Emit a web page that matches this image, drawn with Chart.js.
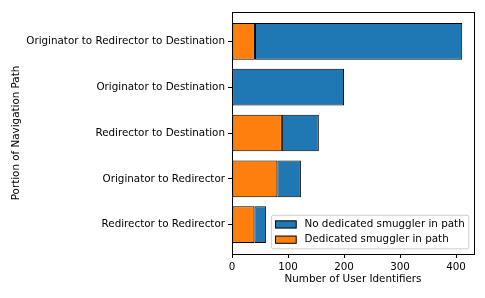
<!DOCTYPE html>
<html><head><meta charset="utf-8">
<script src="https://cdn.jsdelivr.net/npm/chart.js@4"></script>
<style>html,body{margin:0;padding:0;background:#fff;overflow:hidden}</style>
</head><body>
<canvas id="c" width="485" height="298"></canvas>
<script>
// ---- data (top to bottom) ----
const categories = [
  "Originator to Redirector to Destination",
  "Originator to Destination",
  "Redirector to Destination",
  "Originator to Redirector",
  "Redirector to Redirector"
];
const dedicatedSmuggler = [41, 0, 89, 81, 40];
const noDedicatedSmuggler = [370, 200, 66, 42, 21];
const seriesLabels = ["No dedicated smuggler in path", "Dedicated smuggler in path"];
const xTickValues = [0, 100, 200, 300, 400];

// ---- style ----
const FS = 10.35;
const FONT = "'DejaVu Sans', sans-serif";
Chart.defaults.font.family = FONT;
Chart.defaults.font.size = FS;
Chart.defaults.color = '#000';

function makeDataset(label, values, color, order) {
  return {
    label, order,
    data: values.map((v, i) => ({ x: v, y: i })),
    backgroundColor: color,
    borderColor: '#000',
    borderWidth: 1,
    borderSkipped: false,
    categoryPercentage: 1,
    barPercentage: 0.8
  };
}

const framePlugin = {
  id: 'frame',
  afterDatasetsDraw(chart) {
    const { ctx, chartArea: a } = chart;
    ctx.save();
    ctx.strokeStyle = '#000';
    ctx.lineWidth = 1;
    ctx.strokeRect(a.left + 0.5, a.top + 0.5, a.right - a.left, a.bottom - a.top);
    ctx.restore();
  }
};

const legendPlugin = {
  id: 'mplLegend',
  afterDraw(chart) {
    const { ctx, chartArea: a } = chart;
    const items = chart.data.datasets.map(d => ({ label: d.label, color: d.backgroundColor }));
    ctx.save();
    ctx.font = FS + 'px ' + FONT;
    const pad = 0.4 * FS, hl = 2 * FS, hh = 0.7 * FS, tp = 0.8 * FS, gap = 0.5 * FS, rowH = 0.97 * FS;
    const tw = Math.max(...items.map(it => ctx.measureText(it.label).width));
    const w = pad * 2 + hl + tp + tw;
    const h = pad * 2 + rowH * items.length + gap * (items.length - 1);
    const x = a.right - 0.5 * FS - w;
    const y = a.bottom - 0.5 * FS - h;
    ctx.beginPath();
    if (ctx.roundRect) ctx.roundRect(x, y, w, h, 2); else ctx.rect(x, y, w, h);
    ctx.fillStyle = 'rgba(255,255,255,0.8)';
    ctx.fill();
    ctx.strokeStyle = '#cccccc';
    ctx.lineWidth = 1;
    ctx.stroke();
    items.forEach((it, i) => {
      const cy = y + pad + rowH / 2 + i * (rowH + gap);
      ctx.fillStyle = it.color;
      ctx.fillRect(x + pad, cy - hh / 2, hl, hh);
      ctx.strokeStyle = '#000';
      ctx.lineWidth = 1;
      ctx.strokeRect(x + pad, cy - hh / 2, hl, hh);
      ctx.fillStyle = '#000';
      ctx.textBaseline = 'middle';
      ctx.textAlign = 'left';
      ctx.fillText(it.label, x + pad + hl + tp, cy);
    });
    ctx.restore();
  }
};

new Chart(document.getElementById('c'), {
  type: 'bar',
  data: {
    datasets: [
      makeDataset(seriesLabels[0], noDedicatedSmuggler, '#1f77b4', 1),
      makeDataset(seriesLabels[1], dedicatedSmuggler, '#ff7f0e', 0)
    ]
  },
  options: {
    indexAxis: 'y',
    responsive: false,
    animation: false,
    devicePixelRatio: 1,
    layout: { padding: { top: 12, right: 11, left: 0, bottom: 0 } },
    plugins: { legend: { display: false }, tooltip: { enabled: false } },
    scales: {
      x: {
        type: 'linear', stacked: true, min: 0, max: 432, offset: false,
        afterBuildTicks: ax => { ax.ticks = xTickValues.map(v => ({ value: v })); },
        afterFit: ax => { ax.height = 44; },
        grid: { offset: false, drawOnChartArea: false, drawTicks: true, tickLength: 4, color: '#000', lineWidth: 1 },
        border: { display: false },
        ticks: { padding: 3, color: '#000', maxRotation: 0 },
        title: { display: true, text: 'Number of User Identifiers', color: '#000', padding: { top: 0, bottom: 12.8 } }
      },
      y: {
        type: 'linear', stacked: true, reverse: true, min: -0.64, max: 4.64, offset: false,
        afterBuildTicks: ax => { ax.ticks = categories.map((_, i) => ({ value: i })); },
        afterFit: ax => { ax.width = 232; },
        grid: { offset: false, drawOnChartArea: false, drawTicks: true, tickLength: 4, color: '#000', lineWidth: 1 },
        border: { display: false },
        ticks: { padding: 3, color: '#000', autoSkip: false, callback: v => categories[v] },
        title: { display: true, text: 'Portion of Navigation Path', color: '#000', padding: { top: 9.8, bottom: 0 } }
      }
    }
  },
  plugins: [framePlugin, legendPlugin]
});
</script>
</body></html>
